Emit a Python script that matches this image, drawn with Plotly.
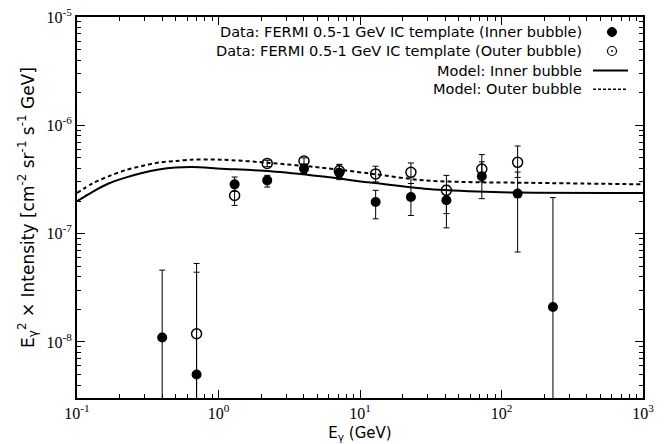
import plotly.graph_objects as go

# ---- data ----
inner_E = [0.40, 0.70, 1.30, 2.21, 4.02, 7.14, 12.9, 22.9, 40.8, 72.6, 130, 231]
inner_I = [1.1e-8, 5.0e-9, 2.85e-7, 3.10e-7, 3.98e-7, 3.65e-7, 1.96e-7, 2.18e-7, 2.03e-7, 3.38e-7, 2.34e-7, 2.10e-8]
inner_hi = [4.6e-8, 4.4e-8, 3.33e-7, 3.45e-7, 4.40e-7, 4.36e-7, 2.51e-7, 2.90e-7, 2.79e-7, 4.60e-7, 3.70e-7, 2.15e-7]
inner_lo = [1e-10, 1e-10, 2.45e-7, 2.69e-7, 3.58e-7, 3.15e-7, 1.37e-7, 1.47e-7, 1.13e-7, 2.10e-7, 6.76e-8, 1e-10]

outer_E = [0.70, 1.30, 2.21, 4.02, 7.14, 12.9, 22.9, 40.8, 72.6, 130]
outer_I = [1.19e-8, 2.25e-7, 4.45e-7, 4.68e-7, 3.80e-7, 3.56e-7, 3.68e-7, 2.51e-7, 3.95e-7, 4.55e-7]
outer_hi = [5.3e-8, 2.70e-7, 4.75e-7, 5.00e-7, 4.30e-7, 4.19e-7, 4.49e-7, 3.45e-7, 5.36e-7, 6.44e-7]
outer_lo = [1e-10, 1.82e-7, 4.15e-7, 4.35e-7, 3.30e-7, 3.00e-7, 2.90e-7, 1.53e-7, 3.00e-7, 3.30e-7]

model_E = [0.1, 0.128, 0.167, 0.22, 0.288, 0.378, 0.497, 0.65, 1.04, 2.33, 5.27, 11.9, 28.4, 67.6, 137, 1000]
model_inner = [1.99e-7, 2.42e-7, 2.90e-7, 3.29e-7, 3.63e-7, 3.90e-7, 4.07e-7, 4.12e-7, 3.98e-7, 3.76e-7,
               3.38e-7, 2.96e-7, 2.60e-7, 2.45e-7, 2.39e-7, 2.37e-7]
model_outer = [2.37e-7, 2.90e-7, 3.38e-7, 3.85e-7, 4.21e-7, 4.53e-7, 4.68e-7, 4.82e-7, 4.82e-7, 4.49e-7,
               4.07e-7, 3.58e-7, 3.10e-7, 2.98e-7, 2.95e-7, 2.85e-7]

legend_labels = ["Data: FERMI 0.5-1 GeV IC template (Inner bubble)",
                 "Data: FERMI 0.5-1 GeV IC template (Outer bubble)",
                 "Model: Inner bubble",
                 "Model: Outer bubble"]

x_ticks = [0.1, 1, 10, 100, 1000]
x_ticktext = ["10<sup>-1</sup>", "10<sup>0</sup>", "10<sup>1</sup>", "10<sup>2</sup>", "10<sup>3</sup>"]
y_ticks = [1e-8, 1e-7, 1e-6, 1e-5]
y_ticktext = ["10<sup>-8</sup>", "10<sup>-7</sup>", "10<sup>-6</sup>", "10<sup>-5</sup>"]

x_minor = [k * 10 ** e for e in range(-1, 3) for k in range(2, 10)]
y_minor = [k * 10 ** e for e in range(-9, -5) for k in range(2, 10)]

fig = go.Figure()

fig.add_trace(go.Scatter(x=model_E, y=model_inner, mode="lines",
                         line=dict(color="black", width=2, shape="spline", smoothing=0.8),
                         showlegend=False, hoverinfo="skip"))
fig.add_trace(go.Scatter(x=model_E, y=model_outer, mode="lines",
                         line=dict(color="black", width=2, dash="4px,3px", shape="spline", smoothing=0.8),
                         showlegend=False, hoverinfo="skip"))

fig.add_trace(go.Scatter(
    x=outer_E, y=outer_I, mode="markers",
    marker=dict(symbol="circle-open", size=10, color="black", line=dict(width=1.5, color="black")),
    error_y=dict(type="data", symmetric=False,
                 array=[h - v for h, v in zip(outer_hi, outer_I)],
                 arrayminus=[v - l for v, l in zip(outer_I, outer_lo)],
                 color="black", thickness=1, width=3),
    showlegend=False))

fig.add_trace(go.Scatter(
    x=inner_E, y=inner_I, mode="markers",
    marker=dict(symbol="circle", size=10, color="black"),
    error_y=dict(type="data", symmetric=False,
                 array=[h - v for h, v in zip(inner_hi, inner_I)],
                 arrayminus=[v - l for v, l in zip(inner_I, inner_lo)],
                 color="black", thickness=1, width=3),
    showlegend=False))

# ---- gnuplot-style legend (text left, sample right) ----
L, R, T, B = 77, 643, 17, 398
W, H = R - L, B - T
def px(xp):
    return (xp - L) / W
def py(yp):
    return (B - yp) / H

sans = "DejaVu Sans, Liberation Sans, Arial, sans-serif"
serif = "Liberation Serif, Times New Roman, serif"

rows = [32, 51, 70.5, 89.3]
for lab, ry in zip(legend_labels, rows):
    fig.add_annotation(x=px(584), y=py(ry), xref="paper", yref="paper", text=lab,
                       showarrow=False, xanchor="right", yanchor="middle",
                       font=dict(family=sans, size=14.5, color="black"))

# legend samples
fig.add_shape(type="circle", xref="paper", yref="paper", xsizemode="pixel", ysizemode="pixel",
              xanchor=px(612), yanchor=py(rows[0]), x0=-4.5, x1=4.5, y0=-4.5, y1=4.5,
              fillcolor="black", line=dict(color="black", width=1))
fig.add_shape(type="circle", xref="paper", yref="paper", xsizemode="pixel", ysizemode="pixel",
              xanchor=px(612), yanchor=py(rows[1]), x0=-4.5, x1=4.5, y0=-4.5, y1=4.5,
              fillcolor="rgba(0,0,0,0)", line=dict(color="black", width=1.2))
fig.add_shape(type="circle", xref="paper", yref="paper", xsizemode="pixel", ysizemode="pixel",
              xanchor=px(612), yanchor=py(rows[1]), x0=-0.8, x1=0.8, y0=-0.8, y1=0.8,
              fillcolor="black", line=dict(color="black", width=0.5))
fig.add_shape(type="line", xref="paper", yref="paper", x0=px(593), x1=px(628),
              y0=py(rows[2]), y1=py(rows[2]), line=dict(color="black", width=2))
fig.add_shape(type="line", xref="paper", yref="paper", x0=px(593), x1=px(628),
              y0=py(rows[3]), y1=py(rows[3]), line=dict(color="black", width=1.5, dash="3px,2px"))

fig.update_xaxes(type="log", range=[-1, 3], tickvals=x_ticks, ticktext=x_ticktext,
                 ticks="inside", ticklen=8, tickwidth=1, tickcolor="black",
                 minor=dict(tickvals=x_minor, ticks="inside", ticklen=4, tickwidth=1, tickcolor="black"),
                 showline=True, linewidth=2, linecolor="black", mirror="ticks",
                 showgrid=False, zeroline=False, automargin=False,
                 tickfont=dict(family=serif, size=16, color="black"),
                 title=dict(text="E<sub>γ</sub> (GeV)", font=dict(family=sans, size=15, color="black"),
                            standoff=6))
fig.update_yaxes(type="log", range=[-8.518, -5], tickvals=y_ticks, ticktext=y_ticktext,
                 ticks="inside", ticklen=8, tickwidth=1, tickcolor="black",
                 minor=dict(tickvals=y_minor, ticks="inside", ticklen=4, tickwidth=1, tickcolor="black"),
                 showline=True, linewidth=2, linecolor="black", mirror="ticks",
                 showgrid=False, zeroline=False, automargin=False,
                 tickfont=dict(family=serif, size=16, color="black"),
                 title=dict(text="E<sub>γ</sub><sup>2</sup> × Intensity [cm<sup>-2</sup> sr<sup>-1</sup> s<sup>-1</sup> GeV]",
                            font=dict(family=sans, size=17, color="black"), standoff=8))

fig.update_layout(width=666, height=444, margin=dict(l=L, r=666 - R, t=T, b=444 - B),
                  paper_bgcolor="white", plot_bgcolor="white", showlegend=False)

fig.write_html("out.html", config={"displayModeBar": False},
               post_script="document.body.style.margin='0';")
